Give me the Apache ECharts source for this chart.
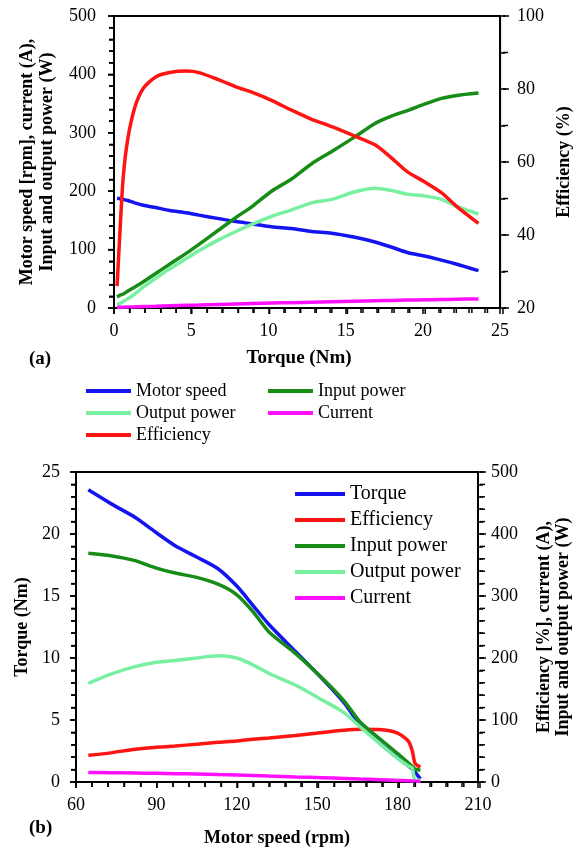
<!DOCTYPE html>
<html>
<head>
<meta charset="utf-8">
<script src="https://cdn.jsdelivr.net/npm/echarts@6/dist/echarts.min.js"></script>
<style>
  html, body { margin: 0; padding: 0; background: #fff; }
  #chart { width: 581px; height: 848px; }
</style>
</head>
<body>
<div id="chart"></div>
<script>
// (a) everything against torque
const torqueA = [0.2, 0.4, 0.6, 0.9, 1.35, 1.9, 2.7, 3.6, 4.7, 5.5, 6.8, 7.9, 9, 10.2, 11.5, 12.8, 14.1, 15.6, 16.9, 18, 19, 20.1, 21.2, 22.2, 23.6]
const speedA = [188, 187, 186, 184, 180, 176, 172, 167, 163, 159, 153, 148, 144, 139, 136, 131, 128, 121, 113, 104, 95, 89, 82, 75, 64]
const inputA = [19, 22, 24, 29, 36, 45, 59, 75, 94, 109, 134, 155, 175, 200, 221, 247, 268, 293, 316, 329, 338, 349, 359, 364, 368]
const outputA = [5, 8, 11, 16, 24, 36, 51, 67, 85, 98, 117, 131, 144, 157, 168, 180, 186, 199, 205, 201, 195, 192, 186, 174, 161]
const currentA = [1, 1.2, 1.4, 1.7, 2, 2.5, 3, 3.7, 4.5, 5, 6, 6.8, 7.6, 8.4, 9.2, 10, 10.8, 11.7, 12.4, 13, 13.5, 14, 14.5, 15, 15.5]
const efficiencyA = [26, 42, 56, 66.5, 75, 80.2, 83.3, 84.5, 84.9, 84.5, 82.5, 80.6, 79, 76.9, 74.2, 71.7, 69.7, 67.1, 64.7, 61, 57.3, 54.6, 51.6, 47.8, 43.2]

// (b) everything against motor speed
const speedB = [64.6, 73, 82, 90, 97, 105, 113, 120, 126, 132, 142, 152, 160, 166, 173, 180, 184, 185.5, 186.5, 188.5]
const torqueB = [23.56, 22.45, 21.35, 20.1, 19.05, 18.15, 17.2, 15.8, 14.25, 12.7, 10.5, 8.3, 6.4, 4.6, 3.2, 1.95, 1.3, 1.05, 0.8, 0.25]
const efficiencyB = [43, 47, 53, 56, 58, 61, 64, 66, 69, 71, 75, 80, 83.5, 85, 84.5, 79, 66, 50, 30, 24]
const inputB = [369, 365, 357, 345, 337, 330, 319, 302, 275, 242, 207, 167, 131, 97, 71, 46, 31, 25, 21, 19]
const outputB = [159, 174, 186, 193, 196, 200, 203.5, 200, 189, 175, 156, 132, 112, 89, 63, 38, 26, 22, 3, 3]
const currentB = [15.5, 15, 14.5, 14, 13.5, 13, 12, 11.2, 10.5, 9.5, 8.2, 7, 5.8, 4.8, 3.8, 2.6, 2, 1.7, 1.4, 1]

const colors = {
  speed: '#1414f0',
  input: '#178c17',
  output: '#78f0a0',
  current: '#ff10ff',
  efficiency: '#ff1414',
}

const FONT = 'Liberation Serif'
const pair = (xs, ys) => xs.map((x, i) => [x, ys[i]])

const chart = echarts.init(document.getElementById('chart'))

const grids = [
  { left: 114, top: 16, width: 389, height: 292, show: true, borderColor: '#000', borderWidth: 2 },
  { left: 76, top: 472, width: 404, height: 310, show: true, borderColor: '#000', borderWidth: 2 },
]

const axisBase = (split, labelMargin, nameStyle = {}) => ({
  type: 'value',
  axisLine: { show: true, onZero: false, lineStyle: { color: '#000', width: 2 } },
  axisTick: { show: true, length: 6, lineStyle: { color: '#000', width: 1.5 } },
  minorTick: { show: true, splitNumber: split, length: 5, lineStyle: { color: '#000', width: 1.5 } },
  splitLine: { show: false },
  axisLabel: { color: '#000', fontFamily: FONT, fontSize: 18, margin: labelMargin },
  nameLocation: 'middle',
  nameTextStyle: { color: '#000', fontFamily: FONT, fontSize: 18, fontWeight: 'bold', ...nameStyle },
})

const line = (name, data, color, xi, yi) => ({
  name,
  type: 'line',
  xAxisIndex: xi,
  yAxisIndex: yi,
  data,
  symbol: 'none',
  smooth: 0.25,
  color,
  lineStyle: { width: 3.5, color },
  z: 3,
})

const legendBase = (left, top, data) => ({
  orient: 'vertical',
  left,
  top,
  data,
  icon: 'rect',
  itemWidth: 45,
  itemHeight: 4,
  itemGap: 4,
  selectedMode: false,
  textStyle: { color: '#000', fontFamily: FONT, fontSize: 18, lineHeight: 18 },
})

const xAxes = [
  {
    ...axisBase(5, 14, { fontSize: 19, padding: [0, 16, 0, 0] }),
    gridIndex: 0,
    min: 0,
    max: 25,
    interval: 5,
    name: 'Torque (Nm)',
    nameGap: 41,
  },
  {
    ...axisBase(5, 14),
    gridIndex: 1,
    min: 60,
    max: 210,
    interval: 30,
    name: 'Motor speed (rpm)',
    nameGap: 47,
  },
]

const yAxes = [
  {
    ...axisBase(5, 18, { lineHeight: 20 }),
    gridIndex: 0,
    min: 0,
    max: 500,
    interval: 100,
    name: 'Motor speed [rpm], current (A),\nInput and output power (W)',
    nameRotate: 90,
    nameGap: 57,
  },
  {
    ...axisBase(2, 17),
    gridIndex: 0,
    position: 'right',
    min: 20,
    max: 100,
    interval: 20,
    name: 'Efficiency (%)',
    nameRotate: 90,
    nameGap: 49,
  },
  {
    ...axisBase(5, 16),
    gridIndex: 1,
    min: 0,
    max: 25,
    interval: 5,
    name: 'Torque (Nm)',
    nameRotate: 90,
    nameGap: 41,
  },
  {
    ...axisBase(5, 13, { lineHeight: 19 }),
    gridIndex: 1,
    position: 'right',
    min: 0,
    max: 500,
    interval: 100,
    name: 'Efficiency [%], current (A),\nInput and output power (W)',
    nameRotate: 90,
    nameGap: 57,
  },
]

// styled axisLabel makes v6 drop its own ticks here, so draw outward major/minor ticks
// along each linear axis (same min/max/interval as the axis itself)
const tickLines = []
const addTicks = (ax, isX) => {
  const g = grids[ax.gridIndex]
  const split = ax.minorTick.splitNumber
  const step = ax.interval / split
  const count = Math.round((ax.max - ax.min) / step)
  const side = isX ? 'bottom' : ax.position === 'right' ? 'right' : 'left'
  for (let k = 0; k <= count; k++) {
    const f = (k * step) / (ax.max - ax.min)
    const len = k % split === 0 ? 6 : 5
    let shape
    if (side === 'bottom') {
      const x = g.left + f * g.width
      const y = g.top + g.height
      shape = { x1: x, y1: y, x2: x, y2: y + len }
    } else {
      const y = g.top + g.height - f * g.height
      const x = side === 'left' ? g.left : g.left + g.width
      shape = { x1: x, y1: y, x2: side === 'left' ? x - len : x + len, y2: y }
    }
    tickLines.push({
      type: 'line',
      id: `tick-${tickLines.length}`,
      shape,
      style: { stroke: '#000', lineWidth: 1.5 },
      silent: true,
      z: 100,
    })
  }
}
xAxes.forEach((ax) => addTicks(ax, true))
yAxes.forEach((ax) => addTicks(ax, false))

const option = {
  animation: false,
  backgroundColor: '#fff',
  grid: grids,
  legend: [
    legendBase(81, 377, ['Motor speed', 'Output power', 'Efficiency']),
    legendBase(263, 377, ['Input power', 'Current']),
    {
      ...legendBase(290, 479, ['Torque', 'Efficiency', 'Input power', 'Output power', 'Current']),
      itemWidth: 50,
      itemGap: 6,
      textStyle: { color: '#000', fontFamily: FONT, fontSize: 20, lineHeight: 20 },
    },
  ],
  xAxis: xAxes,
  yAxis: yAxes,
  graphic: [
    { type: 'text', id: 'label-a', left: 29, top: 350, style: { text: '(a)', font: `bold 19px "${FONT}"`, fill: '#000' } },
    { type: 'text', id: 'label-b', left: 29, top: 819, style: { text: '(b)', font: `bold 19px "${FONT}"`, fill: '#000' } },
    ...tickLines,
  ],
  series: [
    line('Motor speed', pair(torqueA, speedA), colors.speed, 0, 0),
    line('Input power', pair(torqueA, inputA), colors.input, 0, 0),
    line('Output power', pair(torqueA, outputA), colors.output, 0, 0),
    line('Current', pair(torqueA, currentA), colors.current, 0, 0),
    line('Efficiency', pair(torqueA, efficiencyA), colors.efficiency, 0, 1),

    line('Torque', pair(speedB, torqueB), colors.speed, 1, 2),
    line('Efficiency', pair(speedB, efficiencyB), colors.efficiency, 1, 3),
    line('Input power', pair(speedB, inputB), colors.input, 1, 3),
    line('Output power', pair(speedB, outputB), colors.output, 1, 3),
    line('Current', pair(speedB, currentB), colors.current, 1, 3),
  ],
}

chart.setOption(option)

window.addEventListener('resize', () => chart.resize())
</script>
</body>
</html>
